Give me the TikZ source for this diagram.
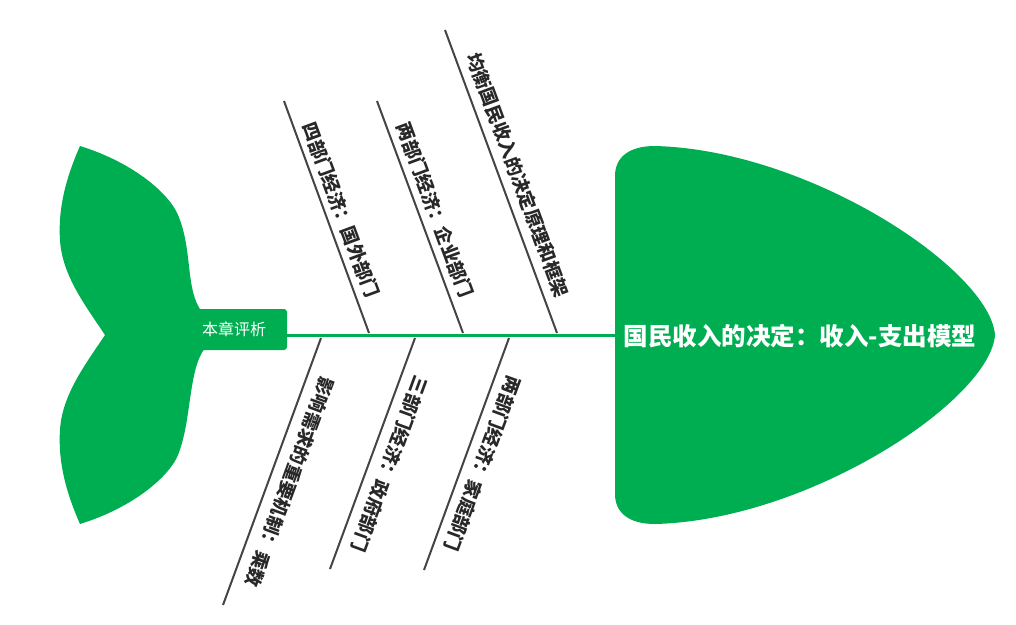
\documentclass[tikz,border=0pt]{standalone}
\usepackage{fontspec}
\setmainfont{Noto Sans CJK SC}
\definecolor{fishgreen}{RGB}{0,174,82}
\definecolor{bonegray}{RGB}{68,68,68}
\definecolor{labelgray}{RGB}{40,40,40}
\tikzset{
  bone/.style={draw=bonegray, line width=2pt},
  spine/.style={draw=fishgreen, line width=3pt},
  uplabel/.style={text=labelgray, font=\bfseries\fontsize{18.5}{18.5}\selectfont, rotate=-69.7, inner sep=0pt},
  lowlabel/.style={text=labelgray, font=\bfseries\fontsize{18.5}{18.5}\selectfont, rotate=-110.2, inner sep=0pt},
}
\begin{document}
\begin{tikzpicture}[x=1pt,y=-1pt]
\useasboundingbox (0,0) rectangle (1016,624);
% head
\fill[fishgreen] (615,176) .. controls (615,158) and (628,146) .. (655,146)
  .. controls (810,150) and (990,270) .. (995,335)
  .. controls (990,400) and (810,520) .. (655,524)
  .. controls (628,524) and (615,512) .. (615,494) -- cycle;
% tail
\fill[fishgreen] (80,146) .. controls (135,163) and (170,195) .. (178,215)
  .. controls (193,250) and (185,290) .. (202,312) -- (205,348)
  .. controls (188,370) and (192,420) .. (178,455)
  .. controls (170,475) and (135,507) .. (80,524)
  .. controls (65,490) and (58,460) .. (60,430)
  .. controls (62,395) and (85,365) .. (105,335)
  .. controls (85,305) and (62,275) .. (60,240)
  .. controls (58,210) and (65,180) .. (80,146) -- cycle;
\node[fill=fishgreen, rounded corners=3pt, minimum width=106pt, minimum height=41pt, inner sep=0pt,
  text=white, font=\fontsize{16}{16}\selectfont] (tailbox) at (234,329.5) {本章评析};
% head title
\node[text=white, font=\bfseries\fontsize{24.5}{24.5}\selectfont] (head) at (800,336) {国民收入的决定：收入-支出模型};
\coordinate (headL) at (615,335);
\draw[spine] (tailbox.east |- headL) -- (headL);
% bones
\coordinate (b1s) at (284,101); \coordinate (b1e) at (369,333);
\coordinate (b2s) at (377,101); \coordinate (b2e) at (463,333);
\coordinate (b3s) at (445,30);  \coordinate (b3e) at (557,333);
\coordinate (b4s) at (321,338); \coordinate (b4e) at (223,605);
\coordinate (b5s) at (415,338); \coordinate (b5e) at (330,569);
\coordinate (b6s) at (509,338); \coordinate (b6e) at (424,570);
\draw[bone] (b1s) -- (b1e);
\draw[bone] (b2s) -- (b2e);
\draw[bone] (b3s) -- (b3e);
\draw[bone] (b4s) -- (b4e);
\draw[bone] (b5s) -- (b5e);
\draw[bone] (b6s) -- (b6e);
% labels
\node[uplabel] (l1) at (341,210) {四部门经济：国外部门};
\node[uplabel] (l2) at (435,210) {两部门经济：企业部门};
\node[uplabel] (l3) at (518,175) {均衡国民收入的决定原理和框架};
\node[lowlabel] (l4) at (290,482) {影响需求的重要机制：乘数};
\node[lowlabel] (l5) at (390,464) {三部门经济：政府部门};
\node[lowlabel] (l6) at (483,464) {两部门经济：家庭部门};
\end{tikzpicture}
\end{document}
